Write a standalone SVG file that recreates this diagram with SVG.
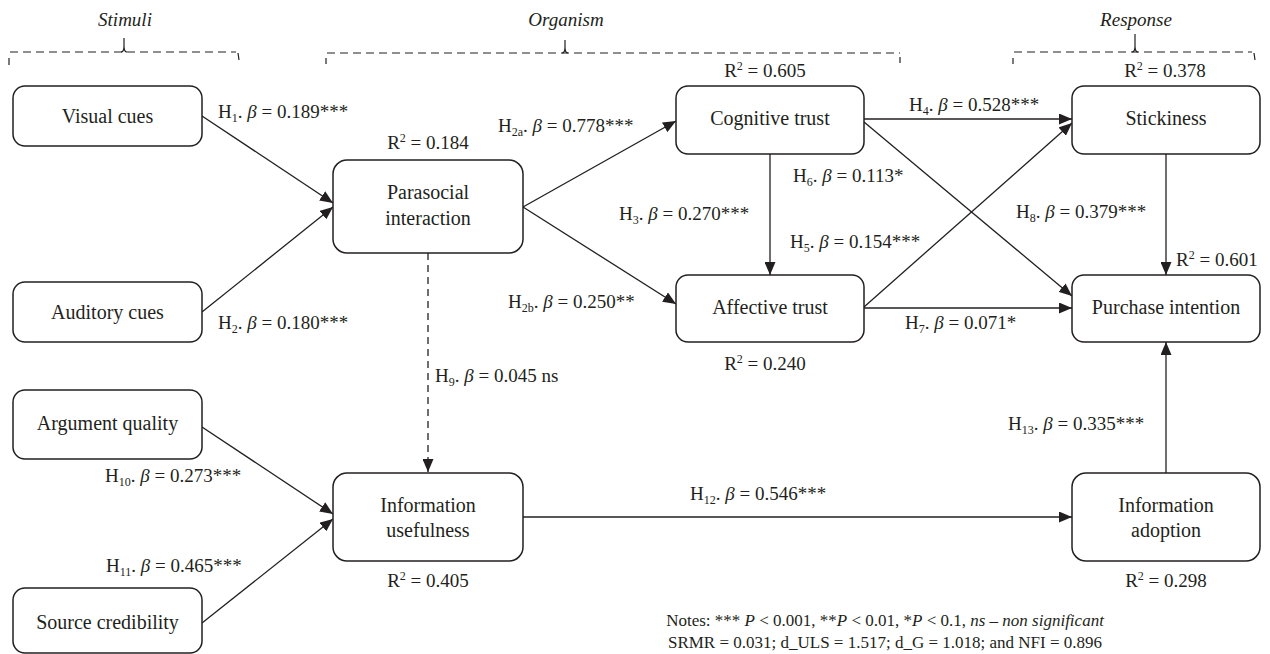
<svg xmlns="http://www.w3.org/2000/svg" width="1270" height="654" viewBox="0 0 1270 654">
<style>
text{font-family:'Liberation Serif',Tinos,'DejaVu Serif','Times New Roman',serif;fill:#231f20}
.n{font-size:20px;text-anchor:middle}
.l{font-size:19px}
.r{font-size:19px;text-anchor:middle}
.h{font-size:19px;font-style:italic;text-anchor:middle}
.nt{font-size:17px;text-anchor:middle}
.box{fill:#fff;stroke:#231f20;stroke-width:1.5}
.c{stroke:#231f20;stroke-width:1.3;fill:none}
.d{stroke:#231f20;stroke-width:1.3;fill:none;stroke-dasharray:7 5}
.b{stroke:#231f20;stroke-width:1.2;fill:none;stroke-dasharray:8 5}
.bt{stroke:#231f20;stroke-width:1.2;fill:none}
.i{font-style:italic}
</style>
<defs>
<marker id="ah" markerUnits="userSpaceOnUse" markerWidth="13" markerHeight="11" refX="13" refY="5.5" orient="auto">
<path d="M0,0 L13,5.5 L0,11 z" fill="#231f20"/>
</marker>
</defs>

<g id="braces">
<text class="h" x="125" y="26" font-family="Liberation Serif, serif">Stimuli</text>
<line class="b" x1="10" y1="52" x2="236" y2="52"/>
<path class="bt" d="M124,38 L124,46 Q124,52 121,52 M124,46 Q124,52 127,52"/>
<line class="bt" x1="9" y1="58" x2="9" y2="65"/>
<line class="bt" x1="238" y1="53" x2="239" y2="60"/>
<text class="h" x="566" y="26">Organism</text>
<line class="b" x1="327" y1="53" x2="900" y2="53"/>
<path class="bt" d="M565,40 L565,47 Q565,53 562,53 M565,47 Q565,53 568,53"/>
<line class="bt" x1="326" y1="58" x2="326" y2="64"/>
<line class="bt" x1="900" y1="57" x2="900" y2="63"/>
<text class="h" x="1136" y="26">Response</text>
<line class="b" x1="1014" y1="52" x2="1252" y2="52"/>
<path class="bt" d="M1135,34 L1135,46 Q1135,52 1132,52 M1135,46 Q1135,52 1138,52"/>
<line class="bt" x1="1013" y1="58" x2="1013" y2="64"/>
<line class="bt" x1="1254" y1="53" x2="1255" y2="60"/>
</g>

<g id="connectors">
<line class="c" x1="202" y1="116" x2="333" y2="203" marker-end="url(#ah)"/>
<line class="c" x1="202" y1="312" x2="333" y2="207" marker-end="url(#ah)"/>
<line class="c" x1="523" y1="207" x2="676" y2="121" marker-end="url(#ah)"/>
<line class="c" x1="523" y1="207" x2="676" y2="304" marker-end="url(#ah)"/>
<line class="c" x1="770" y1="154" x2="770" y2="275" marker-end="url(#ah)"/>
<line class="c" x1="864" y1="119" x2="1072" y2="119" marker-end="url(#ah)"/>
<line class="c" x1="864" y1="122" x2="1072" y2="296" marker-end="url(#ah)"/>
<line class="c" x1="864" y1="307" x2="1072" y2="123" marker-end="url(#ah)"/>
<line class="c" x1="864" y1="308" x2="1072" y2="308" marker-end="url(#ah)"/>
<line class="c" x1="1166" y1="154" x2="1166" y2="275" marker-end="url(#ah)"/>
<line class="c" x1="1166" y1="473" x2="1166" y2="342" marker-end="url(#ah)"/>
<line class="c" x1="523" y1="517" x2="1072" y2="517" marker-end="url(#ah)"/>
<line class="d" x1="428" y1="253" x2="428" y2="472" marker-end="url(#ah)"/>
<line class="c" x1="202" y1="427" x2="333" y2="514" marker-end="url(#ah)"/>
<line class="c" x1="202" y1="623" x2="333" y2="519" marker-end="url(#ah)"/>
</g>

<g id="visual-cues"><rect class="box" x="13" y="86" width="189" height="60" rx="12"/><text class="n" x="107.5" y="123">Visual cues</text></g>
<g id="auditory-cues"><rect class="box" x="13" y="282" width="189" height="60" rx="12"/><text class="n" x="107.5" y="319">Auditory cues</text></g>
<g id="argument-quality"><rect class="box" x="13" y="390" width="189" height="69" rx="12"/><text class="n" x="107.5" y="430">Argument quality</text></g>
<g id="source-credibility"><rect class="box" x="13" y="588" width="189" height="65" rx="12"/><text class="n" x="107.5" y="629">Source credibility</text></g>
<g id="parasocial-interaction"><rect class="box" x="333" y="160" width="190" height="93" rx="14"/><text class="n" x="428" y="199">Parasocial</text><text class="n" x="428" y="225">interaction</text>
<text class="r" x="428" y="149">R<tspan font-size="12" dy="-7">2</tspan><tspan dy="7"> = 0.184</tspan></text></g>
<g id="information-usefulness"><rect class="box" x="333" y="473" width="190" height="88" rx="14"/><text class="n" x="428" y="512">Information</text><text class="n" x="428" y="537">usefulness</text>
<text class="r" x="428" y="587">R<tspan font-size="12" dy="-7">2</tspan><tspan dy="7"> = 0.405</tspan></text></g>
<g id="cognitive-trust"><rect class="box" x="676" y="86" width="188" height="68" rx="12"/><text class="n" x="770" y="125">Cognitive trust</text>
<text class="r" x="765" y="77">R<tspan font-size="12" dy="-7">2</tspan><tspan dy="7"> = 0.605</tspan></text></g>
<g id="affective-trust"><rect class="box" x="676" y="275" width="188" height="67" rx="12"/><text class="n" x="770" y="314">Affective trust</text>
<text class="r" x="765" y="370">R<tspan font-size="12" dy="-7">2</tspan><tspan dy="7"> = 0.240</tspan></text></g>
<g id="stickiness"><rect class="box" x="1072" y="86" width="188" height="68" rx="12"/><text class="n" x="1166" y="125">Stickiness</text>
<text class="r" x="1165" y="77">R<tspan font-size="12" dy="-7">2</tspan><tspan dy="7"> = 0.378</tspan></text></g>
<g id="purchase-intention"><rect class="box" x="1072" y="275" width="188" height="67" rx="12"/><text class="n" x="1166" y="314">Purchase intention</text>
<text class="l" x="1176" y="266">R<tspan font-size="12" dy="-7">2</tspan><tspan dy="7"> = 0.601</tspan></text></g>
<g id="information-adoption"><rect class="box" x="1072" y="473" width="188" height="88" rx="14"/><text class="n" x="1166" y="512">Information</text><text class="n" x="1166" y="537">adoption</text>
<text class="r" x="1166" y="587">R<tspan font-size="12" dy="-7">2</tspan><tspan dy="7"> = 0.298</tspan></text></g>

<g id="labels">
<text class="l" x="218" y="118">H<tspan font-size="12" dy="4">1</tspan><tspan dy="-4">. </tspan><tspan class="i">β</tspan> = 0.189***</text>
<text class="l" x="218" y="329">H<tspan font-size="12" dy="4">2</tspan><tspan dy="-4">. </tspan><tspan class="i">β</tspan> = 0.180***</text>
<text class="l" x="498" y="132">H<tspan font-size="12" dy="4">2a</tspan><tspan dy="-4">. </tspan><tspan class="i">β</tspan> = 0.778***</text>
<text class="l" x="508" y="308">H<tspan font-size="12" dy="4">2b</tspan><tspan dy="-4">. </tspan><tspan class="i">β</tspan> = 0.250**</text>
<text class="l" x="619" y="220">H<tspan font-size="12" dy="4">3</tspan><tspan dy="-4">. </tspan><tspan class="i">β</tspan> = 0.270***</text>
<text class="l" x="909" y="111">H<tspan font-size="12" dy="4">4</tspan><tspan dy="-4">. </tspan><tspan class="i">β</tspan> = 0.528***</text>
<text class="l" x="793" y="182">H<tspan font-size="12" dy="4">6</tspan><tspan dy="-4">. </tspan><tspan class="i">β</tspan> = 0.113*</text>
<text class="l" x="790" y="248">H<tspan font-size="12" dy="4">5</tspan><tspan dy="-4">. </tspan><tspan class="i">β</tspan> = 0.154***</text>
<text class="l" x="1016" y="218">H<tspan font-size="12" dy="4">8</tspan><tspan dy="-4">. </tspan><tspan class="i">β</tspan> = 0.379***</text>
<text class="l" x="905" y="329">H<tspan font-size="12" dy="4">7</tspan><tspan dy="-4">. </tspan><tspan class="i">β</tspan> = 0.071*</text>
<text class="l" x="435" y="382">H<tspan font-size="12" dy="4">9</tspan><tspan dy="-4">. </tspan><tspan class="i">β</tspan> = 0.045 ns</text>
<text class="l" x="105" y="482">H<tspan font-size="12" dy="4">10</tspan><tspan dy="-4">. </tspan><tspan class="i">β</tspan> = 0.273***</text>
<text class="l" x="106" y="572">H<tspan font-size="12" dy="4">11</tspan><tspan dy="-4">. </tspan><tspan class="i">β</tspan> = 0.465***</text>
<text class="l" x="690" y="500">H<tspan font-size="12" dy="4">12</tspan><tspan dy="-4">. </tspan><tspan class="i">β</tspan> = 0.546***</text>
<text class="l" x="1008" y="430">H<tspan font-size="12" dy="4">13</tspan><tspan dy="-4">. </tspan><tspan class="i">β</tspan> = 0.335***</text>
</g>

<g id="notes">
<text class="nt" x="885" y="626">Notes: *** <tspan class="i">P</tspan> &lt; 0.001, **<tspan class="i">P</tspan> &lt; 0.01, *<tspan class="i">P</tspan> &lt; 0.1, <tspan class="i">ns – non significant</tspan></text>
<text class="nt" x="885" y="648">SRMR = 0.031; d_ULS = 1.517; d_G = 1.018; and NFI = 0.896</text>
</g>
</svg>
